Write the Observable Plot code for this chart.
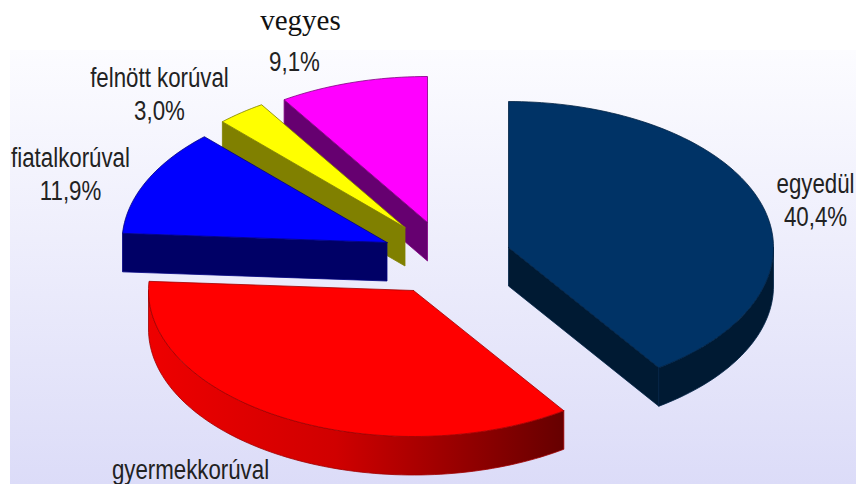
<!DOCTYPE html>
<html>
<head>
<meta charset="utf-8">
<style>html,body{margin:0;padding:0;background:#fff}svg{display:block}</style>
<script src="https://cdn.jsdelivr.net/npm/d3@7"></script>
<script src="https://cdn.jsdelivr.net/npm/@observablehq/plot@0.6"></script>
</head>
<body>
<div id="chart"></div>
<script>
// Data
const categories = ["egyedül", "gyermekkorúval", "fiatalkorúval", "felnött korúval", "vegyes"];
const shares = [40.4, 35.6, 11.9, 3.0, 9.1];

// Styles
const faceColors = ["#003366", "#ff0000", "#0000ff", "#ffff00", "#ff00ff"];
const wallColors = ["#001a33", "url(#redWall)", "#000066", "#808000", "#660070"];
const edgeColors = ["#002244", "#a00000", "#000080", "#808000", "#800080"];

// Layout of the exploded pie (in chart units)
const centerX = [508, 413, 386.5, 404.5, 427];
const centerY = [247, 290, 242, 227, 222];
const radiusX = 265, radiusY = 146, depth = 38.5;
const drawOrder = [4, 3, 2, 1, 0];

// Label layout (x centre, baseline of last line)
const labelX = [815, 190, 70, 159, 294];
const labelY = [225, 478, 199, 119, 70];
const labelSqueeze = 0.81;

const arcs = d3.pie().sort(null).value(d => d)(shares);
const rim = (i, a, dy = 0) => ({
  x: centerX[i] + radiusX * Math.sin(a),
  y: centerY[i] - radiusY * Math.cos(a) + dy
});
const arcPoints = (i, a0, a1, dy = 0) => {
  const n = Math.max(2, Math.ceil(Math.abs(a1 - a0) * 40));
  return d3.range(n + 1).map(k => rim(i, a0 + (a1 - a0) * k / n, dy));
};
const hub = (i, dy = 0) => ({x: centerX[i], y: centerY[i] + dy});
const poly = (pts, fill, stroke, width = 0.8) =>
  Plot.line([...pts, pts[0]], {x: "x", y: "y", fill, stroke, strokeWidth: width, curve: "linear"});

const sliceMarks = drawOrder.flatMap(i => {
  const {startAngle: a0, endAngle: a1} = arcs[i];
  const marks = [];
  const PI = Math.PI;
  // radial cut faces that look towards the viewer
  if (a0 > PI && a0 < 2 * PI)
    marks.push(poly([hub(i), rim(i, a0), rim(i, a0, depth), hub(i, depth)], wallColors[i], edgeColors[i]));
  if (a1 > 0 && a1 < PI)
    marks.push(poly([hub(i), rim(i, a1), rim(i, a1, depth), hub(i, depth)], wallColors[i], edgeColors[i]));
  // outer rim wall (front half of the ellipse only)
  const v0 = Math.max(a0, PI / 2), v1 = Math.min(a1, 3 * PI / 2);
  if (v1 > v0)
    marks.push(poly([...arcPoints(i, v0, v1), ...arcPoints(i, v1, v0, depth)], wallColors[i], edgeColors[i]));
  // top face
  marks.push(poly([hub(i), ...arcPoints(i, a0, a1)], faceColors[i], edgeColors[i]));
  return marks;
});

const fmt = v => v.toFixed(1).replace(".", ",") + "%";
const sansLabels = categories.map((c, i) => ({
  text: i === 1 ? c : i === 4 ? fmt(shares[i]) : c + "\n" + fmt(shares[i]),
  x: labelX[i], y: labelY[i]
}));

const defs = () => {
  const d = d3.create("svg:defs");
  const bg = d.append("linearGradient").attr("id", "bgFill").attr("x1", 0).attr("y1", 0).attr("x2", 0).attr("y2", 1);
  bg.append("stop").attr("offset", 0).attr("stop-color", "#fcfcff");
  bg.append("stop").attr("offset", 1).attr("stop-color", "#dcdcf8");
  const red = d.append("linearGradient").attr("id", "redWall").attr("x1", 0).attr("y1", 0).attr("x2", 1).attr("y2", 0);
  red.append("stop").attr("offset", 0).attr("stop-color", "#ee0000");
  red.append("stop").attr("offset", 0.45).attr("stop-color", "#d00000");
  red.append("stop").attr("offset", 1).attr("stop-color", "#660000");
  return d.node();
};

// Narrow the glyphs: the reference's labels are tall and condensed
const squeeze = (index, scales, values, dims, context, next) => {
  const g = next(index, scales, values, dims, context);
  d3.select(g).selectAll("text").attr("transform", function () {
    return (this.getAttribute("transform") || "") + ` scale(${labelSqueeze},1)`;
  });
  return g;
};

const chart = Plot.plot({
  width: 856, height: 484,
  margin: 0,
  style: {background: "#fff", color: "#1a1a1a"},
  x: {domain: [0, 856], range: [0, 856], axis: null},
  y: {domain: [0, 484], range: [0, 484], axis: null},
  marks: [
    defs,
    Plot.rect([{x1: 10, x2: 856, y1: 50, y2: 484}], {x1: "x1", x2: "x2", y1: "y1", y2: "y2", fill: "url(#bgFill)"}),
    ...sliceMarks,
    Plot.text(sansLabels, {
      x: "x", y: "y", text: "text",
      fontFamily: "Liberation Sans", fontSize: 27.5, lineHeight: 1.2,
      lineAnchor: "bottom",
      fill: "#222", textAnchor: "middle",
      render: squeeze
    }),
    Plot.text([{x: 300, y: 29, t: categories[4]}], {
      x: "x", y: "y", text: "t",
      fontFamily: "Liberation Serif", fontSize: 29, lineAnchor: "bottom", fill: "#111", textAnchor: "middle",
      letterSpacing: "1px"
    })
  ]
});
document.getElementById("chart").appendChild(chart);
</script>
</body>
</html>
